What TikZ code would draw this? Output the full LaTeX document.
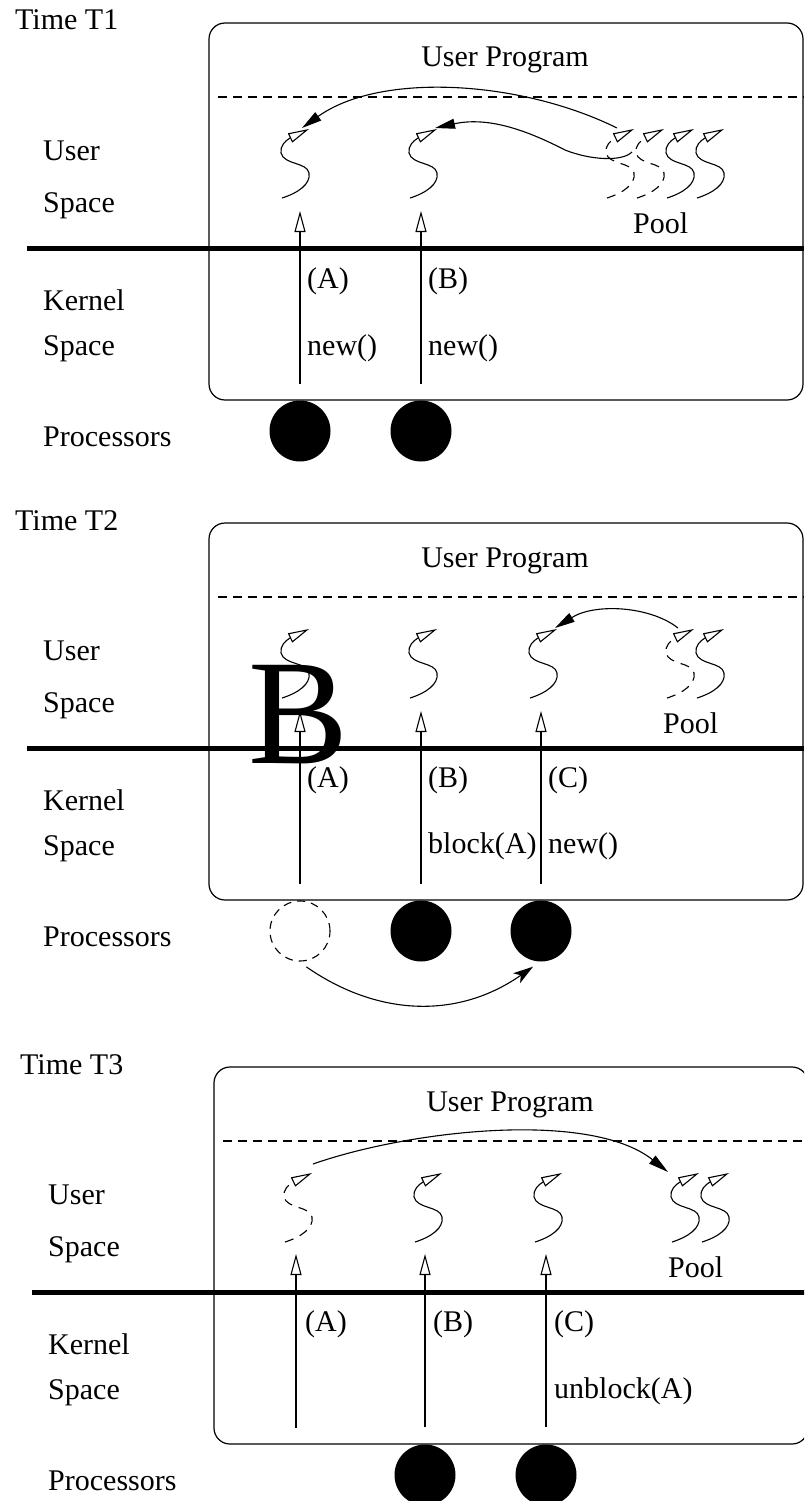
\documentclass[tikz,border=0pt]{standalone}
\usepackage{fontspec}
\setmainfont{Liberation Serif}
\usetikzlibrary{arrows.meta}

\begin{document}
\begin{tikzpicture}[
    x=1pt, y=-1pt,
    font=\fontsize{30}{36}\selectfont,
  txt/.style={anchor=base west, inner sep=0pt},
  cpu/.style={circle, fill=black, minimum size=61pt, inner sep=0pt},
  idlecpu/.style={circle, draw, line width=1.1pt, dash pattern=on 8pt off 6pt, minimum size=60pt, inner sep=0pt},
  upcall/.style={-{Triangle[open, length=21pt, width=11pt]}, line width=1.1pt},
  handoff/.style={-{Triangle[length=20pt, width=10pt]}, line width=1.1pt},
  migrate/.style={-{Stealth[length=20pt, width=12pt, inset=5pt]}, line width=1.1pt},
  boundary/.style={line width=5pt},
  divider/.style={line width=1.1pt, dash pattern=on 9pt off 6pt},
  addrspace/.style={line width=1.2pt, rounded corners=16pt},
  gone/.style={dash pattern=on 9pt off 7pt},
  pics/thread/.style={code={
    \coordinate (-foot) at (0,0);
    \coordinate (-head) at (20,-70);
    \draw[line width=1.1pt, -{Triangle[open, length=21pt, width=10pt]}, #1]
      (0,0) .. controls (16,-5) and (29,-14) .. (27,-25)
      .. controls (25,-36) and (2,-33) .. (-1,-45)
      .. controls (-2,-52) and (3,-57) .. (8,-60) -- (27,-69);
  }},
  pics/thread/.default=solid
]
\useasboundingbox (0,0) rectangle (804,1501);
\clip (0,0) rectangle (804,1501);

% Frames of the three snapshots
\foreach \t/\dx/\dy in {1/0/0, 2/0/500, 3/5/1044} {
  \begin{scope}[shift={(\dx,\dy)}]
    \draw[addrspace] (209,23) rectangle (803,400);
    \draw[divider] (218,97) -- (804,97);
    \draw[boundary] (27,248) -- (804,248);
    \node[txt] (time\t) at (15,30) {Time T\t};
    \node[anchor=base, inner sep=0pt] (prog\t) at (505,67) {User Program};
    \node[txt] (user\t) at (43,160) {User};
    \node[txt] (uspace\t) at (43,212) {Space};
    \node[txt] (kernel\t) at (43,310) {Kernel};
    \node[txt] (kspace\t) at (43,355) {Space};
    \node[txt] (procs\t) at (43,446) {Processors};
  \end{scope}
}

% Time T1
\pic (t1a) at (282,198) {thread};
\pic (t1b) at (410,198) {thread};
\pic (p1a) at (607,198) {thread=gone};
\pic (p1b) at (637,198) {thread=gone};
\pic (p1c) at (667,198) {thread};
\pic (p1d) at (697,198) {thread};
\node[txt] (pool1) at (633,233) {Pool};

\node[cpu] (cpu1a) at (300,431) {};
\node[cpu] (cpu1b) at (421,431) {};
\coordinate (u1a) at (300,211);
\coordinate (u1b) at (421,211);
\draw[upcall] ([yshift=16pt]cpu1a.north) -- (u1a);
\draw[upcall] ([yshift=16pt]cpu1b.north) -- (u1b);

\node[txt] (ca1) at (307,288) {(A)};
\node[txt] (cb1) at (428,288) {(B)};
\node[txt] (na1) at (307,355) {new()};
\node[txt] (nb1) at (428,355) {new()};

\draw[handoff] ([xshift=-10pt]p1a-head) .. controls (520,80) and (380,72) .. (t1a-head);
\draw[handoff] ([shift={(25,-46)}]p1a-foot) .. controls (622,162) and (590,160) .. (565,150)
  .. controls (530,132) and (490,116) .. ([xshift=5pt]t1b-head);

% Time T2
\node[anchor=base west, inner sep=0pt, font=\fontsize{150}{150}\selectfont] (bigb) at (248,763) {B};
\pic (t2a) at (282,698) {thread};
\pic (t2b) at (410,698) {thread};
\pic (t2c) at (530,698) {thread};
\pic (p2a) at (667,698) {thread=gone};
\pic (p2b) at (697,698) {thread};
\node[txt] (pool2) at (663,733) {Pool};

\node[idlecpu] (idle2a) at (300,931) {};
\node[cpu] (cpu2b) at (421,931) {};
\node[cpu] (cpu2c) at (541,931) {};
\coordinate (u2a) at (300,711);
\coordinate (u2b) at (421,711);
\coordinate (u2c) at (541,711);
\draw[upcall] ([yshift=16pt]idle2a.north) -- (u2a);
\draw[upcall] ([yshift=16pt]cpu2b.north) -- (u2b);
\draw[upcall] ([yshift=16pt]cpu2c.north) -- (u2c);

\node[txt] (ca2) at (307,787) {(A)};
\node[txt] (cb2) at (428,787) {(B)};
\node[txt] (cc2) at (548,787) {(C)};
\node[txt] (bb2) at (428,853) {block(A)};
\node[txt] (nc2) at (548,853) {new()};

\draw[handoff] ([xshift=-9pt]p2a-head) .. controls (650,606) and (595,603) .. ([xshift=5pt]t2c-head);
\draw[migrate] ([yshift=-6pt]idle2a.-78) .. controls (380,1018) and (460,1018) .. ([yshift=-6pt]cpu2c.-105);

% Time T3
\pic (t3a) at (285,1242) {thread=gone};
\pic (t3b) at (415,1242) {thread};
\pic (t3c) at (535,1242) {thread};
\pic (p3a) at (672,1242) {thread};
\pic (p3b) at (702,1242) {thread};
\node[txt] (pool3) at (668,1277) {Pool};

\node[cpu] (cpu3b) at (425,1475) {};
\node[cpu] (cpu3c) at (546,1475) {};
\coordinate (k3a) at (296,1428);
\coordinate (u3a) at (296,1254);
\coordinate (u3b) at (425,1254);
\coordinate (u3c) at (546,1254);
\draw[upcall] (k3a) -- (u3a);
\draw[upcall] ([yshift=17pt]cpu3b.north) -- (u3b);
\draw[upcall] ([yshift=17pt]cpu3c.north) -- (u3c);

\node[txt] (ca3) at (305,1331) {(A)};
\node[txt] (cb3) at (433,1331) {(B)};
\node[txt] (cc3) at (554,1331) {(C)};
\node[txt] (ub3) at (554,1398) {unblock(A)};

\draw[handoff] ([shift={(8,-8)}]t3a-head) .. controls (410,1130) and (590,1110) .. ([xshift=-24pt]p3a-head);

\end{tikzpicture}
\end{document}
